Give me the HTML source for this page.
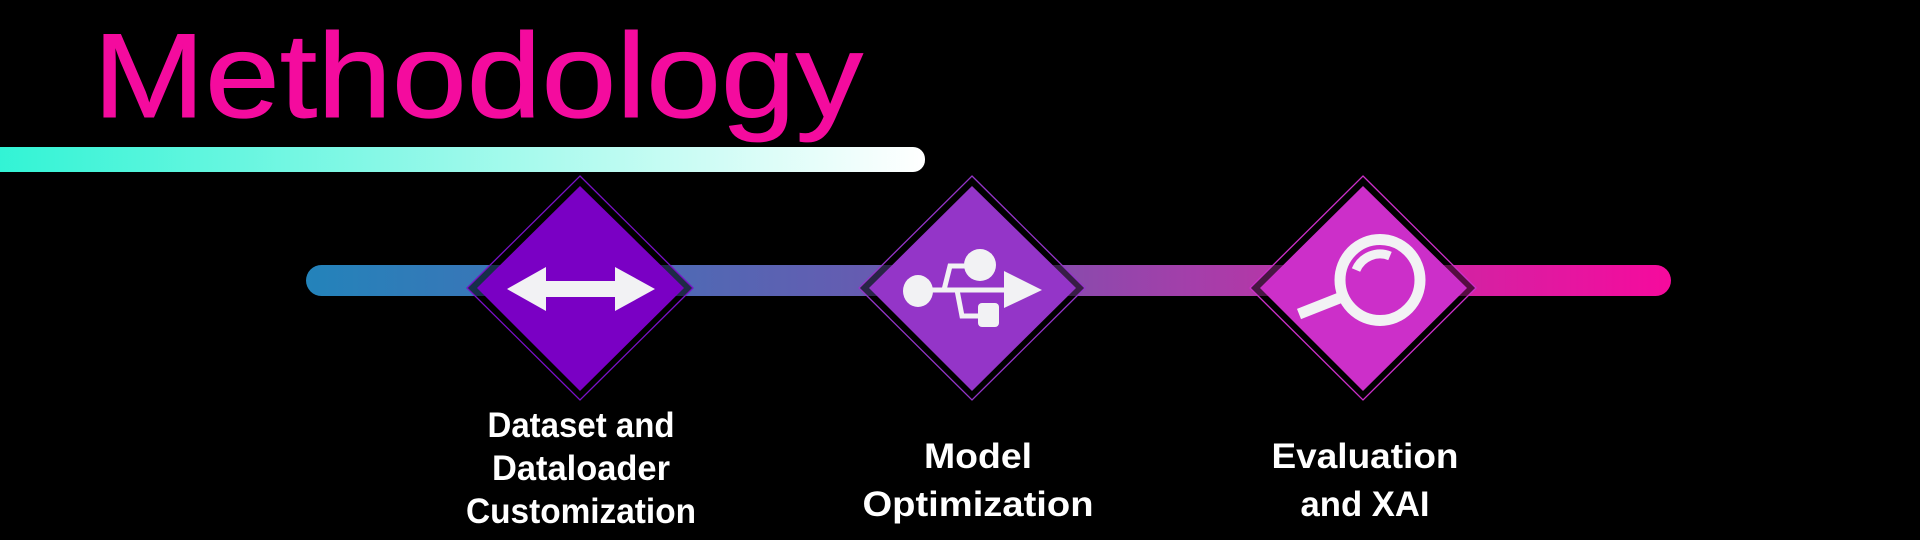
<!DOCTYPE html>
<html><head><meta charset="utf-8"><style>
html,body{margin:0;padding:0;background:#000;width:1920px;height:540px;overflow:hidden}
svg{display:block}
</style></head><body>
<svg width="1920" height="540" viewBox="0 0 1920 540" xmlns="http://www.w3.org/2000/svg">
<defs>
<linearGradient id="teal" x1="0" x2="1" y1="0" y2="0"><stop offset="0" stop-color="#2ef3d4"/><stop offset="1" stop-color="#ffffff"/></linearGradient>
<linearGradient id="bar" x1="0" x2="1" y1="0" y2="0"><stop offset="0" stop-color="#2383ba"/><stop offset="0.45" stop-color="#6c58b0"/><stop offset="0.7" stop-color="#b238a8"/><stop offset="1" stop-color="#f60a9d"/></linearGradient>
</defs>
<rect x="0" y="0" width="1920" height="540" fill="#000"/>
<text x="93" y="117" font-family="Liberation Sans, sans-serif" font-size="120" fill="#f40b9e" stroke="#f40b9e" stroke-width="1" textLength="770" lengthAdjust="spacingAndGlyphs">Methodology</text>
<rect x="-20" y="147" width="945" height="25" rx="12" fill="url(#teal)"/>
<rect x="306" y="265" width="1365" height="31" rx="15.5" fill="url(#bar)"/>
<g>
<polygon points="580,176 693,288 580,400 467,288" fill="#000" fill-opacity="0.6" stroke="#7a10c8" stroke-width="1.3"/>
<polygon points="580,186 684,288 580,391 477,288" fill="#7a00c4"/>
<polygon points="972,176 1085,288 972,400 859,288" fill="#000" fill-opacity="0.6" stroke="#9435c8" stroke-width="1.3"/>
<polygon points="972,186 1076,288 972,391 869,288" fill="#9435c8"/>
<polygon points="1363,176 1476,288 1363,400 1250,288" fill="#000" fill-opacity="0.6" stroke="#cc2fc9" stroke-width="1.3"/>
<polygon points="1363,186 1467,288 1363,391 1260,288" fill="#cc2fc9"/>
</g>
<polygon points="507,289 546,267 546,281 615,281 615,267 655,289 615,311 615,297 546,297 546,311" fill="#f2f2f4"/>
<g fill="#f2f2f4" stroke="#f2f2f4">
<ellipse cx="918" cy="291" rx="15" ry="16" stroke="none"/>
<circle cx="980" cy="265" r="16" stroke="none"/>
<polygon points="1004,271 1042,290 1004,308" stroke="none"/>
<line x1="918" y1="290" x2="1008" y2="290" stroke-width="5"/>
<polyline points="944,290 950,266 980,266" fill="none" stroke-width="5"/>
<polyline points="957,290 962,316 985,316" fill="none" stroke-width="5"/>
<rect x="978" y="303" width="21" height="24" rx="4" stroke="none"/>
</g>
<g fill="none" stroke="#f2f2f4">
<ellipse cx="1380" cy="280" rx="40" ry="40.5" stroke-width="11"/>
<line x1="1299" y1="314" x2="1342" y2="297" stroke-width="11"/>
<path d="M1356,270 A26,26 0 0 1 1390,256" stroke-width="9"/>
</g>
<g font-family="Liberation Sans, sans-serif" font-weight="bold" font-size="35" fill="#ffffff" text-anchor="middle">
<text x="581" y="437" textLength="187" lengthAdjust="spacingAndGlyphs">Dataset and</text>
<text x="581" y="480" textLength="178" lengthAdjust="spacingAndGlyphs">Dataloader</text>
<text x="581" y="523" textLength="230" lengthAdjust="spacingAndGlyphs">Customization</text>
<text x="978" y="468" textLength="108" lengthAdjust="spacingAndGlyphs">Model</text>
<text x="978" y="516" textLength="231" lengthAdjust="spacingAndGlyphs">Optimization</text>
<text x="1365" y="468" textLength="187" lengthAdjust="spacingAndGlyphs">Evaluation</text>
<text x="1365" y="516" textLength="129" lengthAdjust="spacingAndGlyphs">and XAI</text>
</g>
</svg>
</body></html>
